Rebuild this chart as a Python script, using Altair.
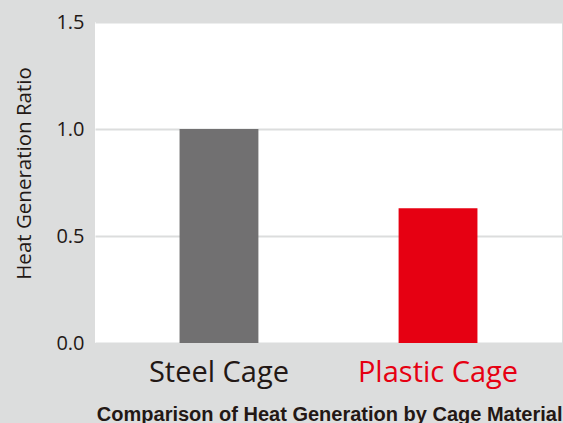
import altair as alt
import pandas as pd

categories = ["Steel Cage", "Plastic Cage"]
values = [1.0, 0.63]
colors = ["#717071", "#e60012"]
y_ticks = [0.0, 0.5, 1.0, 1.5]

df = pd.DataFrame({"cage": categories, "ratio": values, "color": colors})

chart = alt.Chart(df).mark_bar().encode(
    x=alt.X(
        "cage:N",
        sort=categories,
        scale=alt.Scale(paddingInner=0.64, paddingOuter=0.386),
        axis=alt.Axis(
            title="Comparison of Heat Generation by Cage Material",
            titleFont="Liberation Sans",
            titleFontWeight="bold",
            titleFontSize=20,
            titleColor="#231815",
            titleAnchor="end",
            titleAlign="right",
            titlePadding=17,
            labelAngle=0,
            labelFont="Open Sans",
            labelFontSize=29,
            labelFontWeight="normal",
            labelColor=alt.condition("datum.value == 'Plastic Cage'", alt.value("#e60012"), alt.value("#231815")),
            labelPadding=15,
            ticks=False,
            domain=False,
            grid=False,
        ),
    ),
    y=alt.Y(
        "ratio:Q",
        scale=alt.Scale(domain=[0, 1.5], nice=False),
        axis=alt.Axis(
            title="Heat Generation Ratio",
            values=y_ticks,
            format=".1f",
            titleFont="Open Sans",
            titleFontSize=20.5,
            titleFontWeight="normal",
            titleColor="#231815",
            titlePadding=21,
            titleY=151,
            labelFont="Open Sans",
            labelFontSize=20,
            labelColor="#231815",
            labelPadding=11,
            ticks=False,
            domain=False,
            grid=True,
            gridColor="#dcdddd",
            gridWidth=2,
        ),
    ),
    color=alt.Color("color:N", scale=None, legend=None),
).properties(
    width=467,
    height=321,
    background="#dcdddd",
    padding={"left": 95, "top": 22, "right": 1, "bottom": 80},
    autosize=alt.AutoSizeParams(type="none"),
).configure_view(fill="white", stroke=None)

chart.save("out.html", embed_options={"renderer": "svg", "actions": False})
